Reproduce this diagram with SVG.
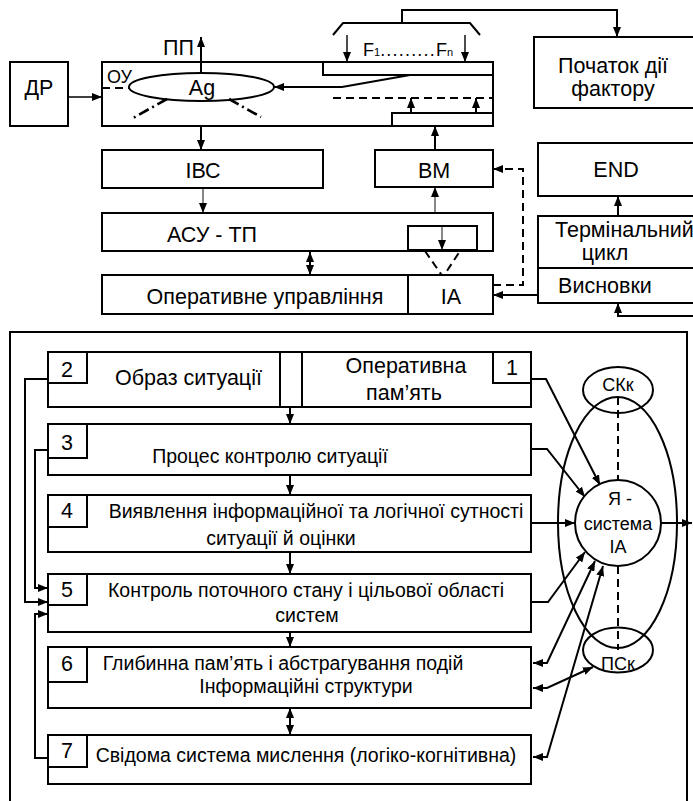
<svg xmlns="http://www.w3.org/2000/svg" width="693" height="801" viewBox="0 0 693 801">
<defs>
<style>
.b{fill:#fff;stroke:#000;stroke-width:2}
.n{fill:none;stroke:#000;stroke-width:2}
.t{fill:none;stroke:#000;stroke-width:1.4}
.g{fill:none;stroke:#555;stroke-width:1.4}
.d{fill:none;stroke:#000;stroke-width:2;stroke-dasharray:8,5}
.dd{fill:none;stroke:#000;stroke-width:2.6;stroke-dasharray:11,4,2,4}
text{font-family:"Liberation Sans",Arial,sans-serif;fill:#000}
.L{font-size:21.5px}
.M{font-size:19.5px}
.S{font-size:18px}
.c{text-anchor:middle}
</style>
<marker id="ah" viewBox="0 0 10 8" refX="10" refY="4" markerWidth="10" markerHeight="8" markerUnits="userSpaceOnUse" orient="auto-start-reverse"><path d="M0,0 L10,4 L0,8 z" fill="#000"/></marker>
</defs>

<g id="connectors">
<path class="t" d="M68,97 H102" marker-end="url(#ah)"/>
<path class="n" d="M201,73 V37" marker-end="url(#ah)"/>
<path class="n" d="M201,126 V150" marker-end="url(#ah)"/>
<path class="g" d="M203,188 V213" marker-end="url(#ah)"/>
<path class="g" d="M435,213 V187" marker-end="url(#ah)"/>
<path class="n" d="M435,150 V126" marker-end="url(#ah)"/>
<path class="n" d="M310,252 V275" marker-start="url(#ah)" marker-end="url(#ah)"/>
<path class="g" d="M442,226 V250" marker-end="url(#ah)"/>
<path class="d" d="M425,251 L443,277 L460,251"/>
<path class="d" d="M493,285 H523 V169 H493" marker-end="url(#ah)"/>
<path class="n" d="M538,295 H493" marker-end="url(#ah)"/>
<path class="n" d="M618,216 V196" marker-end="url(#ah)"/>
<path class="n" d="M693,316 H618 V303" marker-end="url(#ah)"/>
<path class="n" d="M617,37 V10 H402 V23" marker-start="url(#ah)"/>
<path class="n" d="M333,35 L343,23 H470 L480,35"/>
<path class="t" d="M347,35 V62" marker-end="url(#ah)"/>
<path class="t" d="M465,35 V62" marker-end="url(#ah)"/>
<path class="n" d="M410,75 L342,87 H274" marker-end="url(#ah)"/>
<path class="d" d="M102,88 H129"/>
<path class="d" d="M333,98 H493"/>
<path class="n" d="M411,113 V98" marker-end="url(#ah)"/>
<path class="n" d="M476,113 V98" marker-end="url(#ah)"/>
<path class="dd" d="M167,99 L133,118"/>
<path class="dd" d="M229,99 L261,117"/>
<path class="n" d="M262,379 H320" marker-start="url(#ah)" marker-end="url(#ah)"/>
<path class="n" d="M290,407 V424" marker-end="url(#ah)"/>
<path class="n" d="M290,475 V495" marker-end="url(#ah)"/>
<path class="n" d="M290,552 V574" marker-end="url(#ah)"/>
<path class="n" d="M290,632 V647" marker-end="url(#ah)"/>
<path class="n" d="M290,708 V735" marker-start="url(#ah)" marker-end="url(#ah)"/>
<path class="n" d="M48,379 H25 V602 H48" marker-end="url(#ah)"/>
<path class="n" d="M48,450 H35 V588 H48" marker-end="url(#ah)"/>
<path class="n" d="M48,758 H35 V614 H48" marker-end="url(#ah)"/>
<path class="n" d="M531,379 H546 L600,485" marker-end="url(#ah)"/>
<path class="n" d="M531,449 H547 L585,497" marker-end="url(#ah)"/>
<path class="n" d="M531,523 H575" marker-end="url(#ah)"/>
<path class="n" d="M531,602 H548 L585,552" marker-end="url(#ah)"/>
<path class="n" d="M533,663 H547 L595,561" marker-start="url(#ah)" marker-end="url(#ah)"/>
<path class="n" d="M533,757 H547 L603,566" marker-start="url(#ah)" marker-end="url(#ah)"/>
<path class="n" d="M533,688 H547 L593,667" marker-start="url(#ah)" marker-end="url(#ah)"/>
<path class="n" d="M661,523 H692" marker-end="url(#ah)"/>
<path class="d" d="M618,397 V480"/>
<path class="d" d="M618,566 V650"/>
</g>

<g id="dr"><rect class="b" x="10" y="62" width="58" height="64"/><text class="L c" x="39" y="95">ДР</text></g>

<g id="ou">
<rect class="n" x="102" y="62" width="391" height="64"/>
<rect class="n" x="323" y="62" width="170" height="13"/>
<rect class="n" x="392" y="113" width="101" height="13"/>
<text x="107" y="83" style="font-size:18px">ОУ</text>
</g>
<g id="ag"><ellipse class="n" cx="201.5" cy="87" rx="72.5" ry="14"/><text class="L c" x="202" y="95">Ag</text></g>
<g id="pp"><text class="L" x="163" y="55">ПП</text></g>
<g id="f"><text x="363" y="56" style="font-size:18px">F<tspan style="font-size:11px">1</tspan><tspan letter-spacing="1.2">.........</tspan>F<tspan style="font-size:11px">n</tspan></text></g>

<g id="pochatok"><rect class="b" x="534" y="37" width="160" height="71"/><text class="L c" x="613" y="73">Початок дії</text><text class="L c" x="613" y="96">фактору</text></g>

<g id="ivs"><rect class="b" x="102" y="150" width="221" height="38"/><text class="L c" x="203" y="178">ІВС</text></g>
<g id="vm"><rect class="b" x="375" y="150" width="118" height="37"/><text class="L c" x="434" y="178">ВМ</text></g>
<g id="end"><rect class="b" x="538" y="143" width="156" height="53"/><text class="L c" x="616" y="177">END</text></g>

<g id="asu"><rect class="n" x="102" y="213" width="391" height="38"/><rect class="n" x="408" y="226" width="69" height="24"/><text class="L c" x="212" y="242">АСУ - ТП</text></g>
<g id="oper"><rect class="b" x="102" y="275" width="306" height="39"/><text class="L c" x="265" y="304">Оперативне управління</text></g>
<g id="ia"><rect class="b" x="408" y="275" width="85" height="39"/><text class="L c" x="451" y="304">ІА</text></g>

<g id="term"><rect class="n" x="538" y="216" width="156" height="52"/><text class="L" x="555" y="237">Термінальний</text><text class="L c" x="605" y="260">цикл</text></g>
<g id="vysn"><rect class="n" x="538" y="268" width="156" height="35"/><text class="L c" x="605" y="293">Висновки</text></g>

<g id="outer"><path class="n" d="M10,810 V332 H687 V810"/></g>

<g id="box2">
<rect class="b" x="48" y="352" width="483" height="55"/>
<rect class="n" x="48" y="352" width="39" height="31"/>
<rect class="n" x="493" y="352" width="38" height="31"/>
<rect class="n" x="280" y="352" width="22" height="55"/>
<text class="L c" x="67" y="377">2</text>
<text class="L c" x="512" y="375">1</text>
<text class="L" x="115" y="385">Образ ситуації</text>
<text class="L c" x="406" y="373">Оперативна</text>
<text class="L c" x="404" y="400">пам’ять</text>
</g>
<g id="box3"><rect class="b" x="48" y="424" width="483" height="51"/><rect class="n" x="48" y="424" width="39" height="34"/><text class="L c" x="67" y="450">3</text><text class="M c" x="270" y="463">Процес контролю ситуації</text></g>
<g id="box4"><rect class="b" x="48" y="495" width="483" height="57"/><rect class="n" x="48" y="495" width="39" height="32"/><text class="L c" x="67" y="518">4</text><text class="M c" x="316" y="518">Виявлення інформаційної та логічної сутності</text><text class="M c" x="281" y="545">ситуації й оцінки</text></g>
<g id="box5"><rect class="b" x="48" y="574" width="483" height="58"/><rect class="n" x="48" y="574" width="39" height="31"/><text class="L c" x="67" y="597">5</text><text class="M c" x="306" y="597">Контроль поточного стану і цільової області</text><text class="M c" x="307" y="622">систем</text></g>
<g id="box6"><rect class="b" x="48" y="647" width="483" height="61"/><rect class="n" x="48" y="647" width="39" height="35"/><text class="L c" x="67" y="671">6</text><text class="M c" x="283" y="670">Глибинна пам’ять і абстрагування подій</text><text class="M c" x="306" y="693">Інформаційні структури</text></g>
<g id="box7"><rect class="b" x="48" y="735" width="483" height="49"/><rect class="n" x="48" y="735" width="39" height="32"/><text class="L c" x="67" y="758">7</text><text class="M c" x="306" y="762">Свідома система мислення (логіко-когнітивна)</text></g>

<g id="bigellipse"><ellipse class="n" cx="617.5" cy="522.5" rx="59.5" ry="125.5"/></g>
<g id="skk"><ellipse class="n" cx="618" cy="390" rx="35" ry="23"/><text class="S c" x="618" y="391">СКк</text></g>
<g id="psk"><ellipse class="n" cx="618" cy="650" rx="35" ry="22.5"/><text class="S c" x="618" y="670">ПСк</text></g>
<g id="ya"><circle class="b" cx="618" cy="523" r="43"/><text class="S c" x="620" y="505">Я -</text><text class="S c" x="618" y="530">система</text><text class="S c" x="618" y="553">ІА</text></g>
</svg>
